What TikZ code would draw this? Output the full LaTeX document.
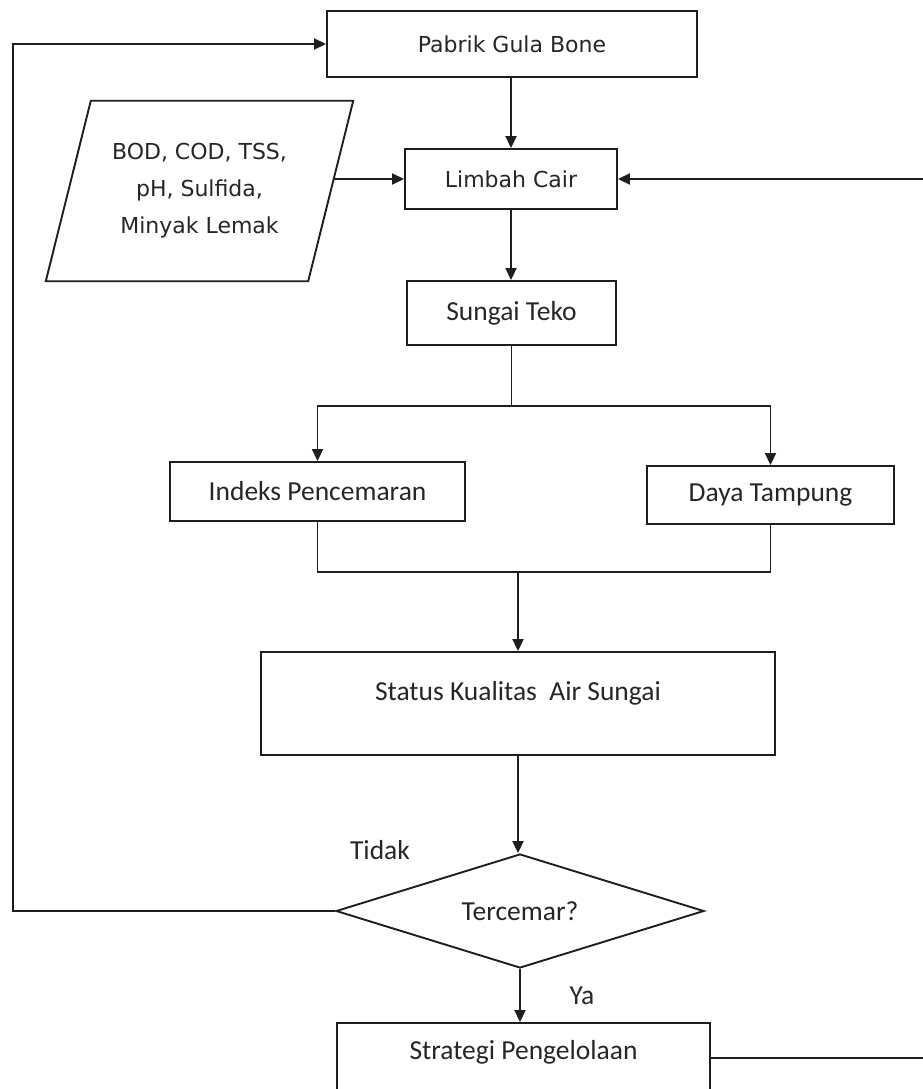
\documentclass[tikz,border=0pt]{standalone}
\usepackage{fontspec}
\newfontfamily\dvfont{DejaVu Sans}
\newfontfamily\cbfont{Carlito}
\usetikzlibrary{arrows.meta,calc,shapes.geometric}
\definecolor{ink}{HTML}{1E1E1E}
\definecolor{txt}{HTML}{262626}
\begin{document}
\begin{tikzpicture}[x=1pt,y=-1pt,
  ln/.style={line width=1.9pt, draw=ink},
  arr/.style={ln, -{Triangle[length=12pt,width=11pt]}},
  boxdv/.style={rectangle, draw=ink, line width=1.9pt, inner sep=0pt, text=txt,
    font=\dvfont\fontsize{22pt}{37pt}\selectfont},
  boxcb/.style={rectangle, draw=ink, line width=1.9pt, inner sep=0pt, text=txt,
    font=\cbfont\fontsize{27.5pt}{33pt}\selectfont},
  lbl/.style={inner sep=0pt, text=txt, font=\cbfont\fontsize{27.5pt}{33pt}\selectfont}
]
\useasboundingbox (0,0) rectangle (923,1089);
\clip (0,0) rectangle (923,1089);

% nodes
\node[boxdv, minimum width=370pt, minimum height=66pt] (pgb) at (512,44) {Pabrik Gula Bone};
\node[boxdv, minimum width=212pt, minimum height=60pt] (lc) at (511,179) {Limbah Cair};
\node[rectangle, draw=none, inner sep=0pt, align=center, text=txt,
      font=\dvfont\fontsize{22pt}{37pt}\selectfont,
      minimum width=262pt, minimum height=180pt] (para) at (199.5,191)
      {BOD, COD, TSS,\\pH, Sulfida,\\Minyak Lemak};
\draw[ln] ($(para.north west)+(22.5,0)$) -- ($(para.north east)+(22.5,0)$)
   -- ($(para.south east)+(-22.5,0)$) -- ($(para.south west)+(-22.5,0)$) -- cycle;
\node[boxcb, minimum width=209pt, minimum height=64pt] (st) at (511.5,313) {Sungai Teko};
\node[boxcb, minimum width=295pt, minimum height=59pt] (ip) at (317.5,491.5) {Indeks Pencemaran};
\node[boxcb, minimum width=247pt, minimum height=58pt] (dt) at (770.5,495) {Daya Tampung};
\node[boxcb, minimum width=514pt, minimum height=103pt, text height=16pt, text depth=22pt] (sk) at (518,703.5) {Status Kualitas\ \ Air Sungai};
\node[diamond, draw=ink, line width=1.9pt, aspect=3.2, inner sep=0pt,
      minimum width=368pt, minimum height=114pt, text=txt,
      font=\cbfont\fontsize{27.5pt}{33pt}\selectfont] (dm) at (520,911) {Tercemar?};
\node[boxcb, minimum width=373pt, minimum height=70pt, text height=16pt, text depth=14pt] (sp) at (523.5,1058) {Strategi Pengelolaan};
\node[lbl] (tidak) at (380,850) {Tidak};
\node[lbl] (ya) at (582,996) {Ya};

% helper coordinates
\coordinate (split) at (512,406);
\coordinate (merge) at (518,572);
\coordinate (lft) at (13,911);
\coordinate (rgt) at (940,0);

% connectors
\draw[arr] (lc.north |- pgb.south) -- (lc.north);
\draw[arr] ([xshift=3pt]para.east |- lc.west) -- (lc.west);
\draw[arr] (lc.south) -- (lc.south |- st.north);
\draw[ln] (st.south) -- (st.south |- split);
\draw[arr] (st.south |- split) -| (ip.north);
\draw[arr] (st.south |- split) -| (dt.north);
\draw[ln] (ip.south) |- (dt.south |- merge) -- (dt.south);
\draw[arr] (sk.north |- merge) -- (sk.north);
\draw[arr] (sk.south) -- (sk.south |- dm.north);
\draw[arr] (dm.south) -- (dm.south |- sp.north);
\draw[arr] (dm.west) -- (lft) |- (pgb.west);
\draw[arr] (sp.east) -| (rgt |- lc.east) -- (lc.east);
\end{tikzpicture}
\end{document}
